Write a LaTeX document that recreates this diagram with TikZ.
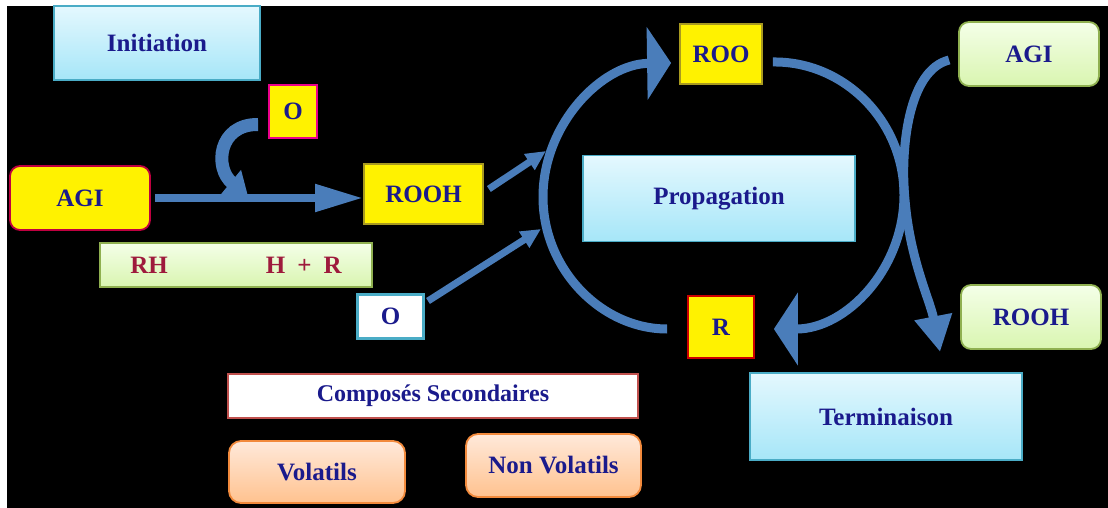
\documentclass[tikz,border=0pt]{standalone}
\usepackage{fontspec}
\setmainfont{Liberation Serif}
\usetikzlibrary{arrows.meta,calc}
\definecolor{navy}{HTML}{1A1A8C}
\definecolor{rhred}{HTML}{9E1A3C}
\definecolor{cyantop}{HTML}{E4F8FE}
\definecolor{cyanbot}{HTML}{A6E6F8}
\definecolor{cyanedge}{HTML}{4AACC6}
\definecolor{greentop}{HTML}{F4FFE8}
\definecolor{greenbot}{HTML}{D9F5B0}
\definecolor{greenedge}{HTML}{8FB050}
\definecolor{orangetop}{HTML}{FFE9DA}
\definecolor{orangebot}{HTML}{FFC28F}
\definecolor{orangeedge}{HTML}{F28A3C}
\definecolor{yellowedge}{HTML}{A89A20}
\definecolor{compred}{HTML}{C0504D}
\definecolor{arrowblue}{HTML}{4A7DBA}
\begin{document}
\begin{tikzpicture}[x=0.5pt,y=-0.5pt,
    box/.style={draw, line width=0.9pt, text=navy, inner sep=0pt,
        font=\bfseries\fontsize{12.5}{15}\selectfont},
    stagebox/.style={box, draw=cyanedge, top color=cyantop, bottom color=cyanbot,
        minimum width=136pt, minimum height=43pt},
    yellowbox/.style={box, fill=yellow, draw=yellowedge},
    greenbox/.style={box, rounded corners=5pt, draw=greenedge, top color=greentop,
        bottom color=greenbot, minimum width=70pt, minimum height=32pt},
    orangebox/.style={box, rounded corners=6pt, draw=orangeedge, top color=orangetop,
        bottom color=orangebot, minimum height=31pt},
    flow/.style={draw=arrowblue, line width=4.5pt},
    ]

    \useasboundingbox (0,0) rectangle (1108,508);
    \fill[white] (0,0) rectangle (1108,508);
    \fill[black] (7,6) rectangle (1108,508);

    \node[stagebox, minimum width=103pt, minimum height=37pt] (init) at (157,43) {Initiation};
    \node[stagebox] (prop) at (719,198.5) {Propagation};
    \node[stagebox, minimum height=43.5pt] (term) at (886,416.5) {Terminaison};

    \node[yellowbox, draw=magenta, minimum width=24pt, minimum height=26.5pt] (oA) at (293,111.5) {O};
    \node[yellowbox, draw=purple, rounded corners=5pt, minimum width=70pt, minimum height=32pt] (agiL) at (80,198) {AGI};
    \node[yellowbox, minimum width=59.5pt, minimum height=30pt] (roohY) at (423.5,194) {ROOH};
    \node[yellowbox, minimum width=41pt, minimum height=30pt] (roo) at (721,54) {ROO};
    \node[yellowbox, draw=red!80!black, minimum width=33pt, minimum height=31pt] (rY) at (721,327) {R};
    \node[box, fill=white, draw=cyanedge, line width=1.5pt, minimum width=33pt, minimum height=22pt] (oB) at (390.5,316.5) {O};

    \node[box, draw=greenedge, top color=greentop, bottom color=greenbot, text=rhred,
        minimum width=136pt, minimum height=22pt] (rh) at (236,265) {RH\hspace{49pt}H\hspace{6pt}+\hspace{6pt}R\hspace{12pt}};

    \node[greenbox] (agiR) at (1029,54) {AGI};
    \node[greenbox] (roohR) at (1031,317) {ROOH};

    \node[box, fill=white, draw=compred, line width=1.3pt, minimum width=205pt, minimum height=22pt,
        font=\bfseries\fontsize{12}{14}\selectfont] (comp) at (433,396) {Composés Secondaires};
    \node[orangebox, minimum width=88pt] (vol) at (317,472) {Volatils};
    \node[orangebox, minimum width=87.5pt, minimum height=31.5pt] (nonvol) at (553.5,465.5) {Non Volatils};

    \coordinate (join) at (248,196);
    \coordinate (cin1) at (546,151);
    \coordinate (cin2) at (541,229);

    \draw[flow, line width=4pt, -{Triangle[length=24pt,width=13pt]}] ([xshift=2pt]agiL.east) -- (agiL.east -| roohY.west);
    \draw[flow, line width=6.5pt, -{Triangle[length=11pt,width=15pt]}] ($(oA.west)+(-10,13)$) .. controls (218,124) and (214,168) .. (join);
    \draw[flow, line width=3.5pt, -{Triangle[length=10pt,width=9pt]}] ($(roohY.east)+(5,-5)$) -- (cin1);
    \draw[flow, line width=3.5pt, -{Triangle[length=10pt,width=9pt]}] ($(oB.north east)+(3,8)$) -- (cin2);

    \draw[flow, -{Triangle[length=12pt,width=36pt]}] ($(rY.west)+(-20,2)$) .. controls (602,329) and (543,270) .. (543,197)
        .. controls (543,124) and (602,64) .. ($(roo.west)+(-8,9)$);
    \draw[flow, -{Triangle[length=12pt,width=36pt]}] ($(roo.east)+(10,8)$) .. controls (844,61) and (904,121) .. (904,195)
        .. controls (904,269) and (846,329) .. ($(rY.east)+(19,2)$);
    \draw[flow, -{Triangle[length=18pt,width=18pt]}] ($(agiR.west)+(-9,6)$) .. controls (908,70) and (900,150) .. (905,200)
        .. controls (910,260) and (930,300) .. ($(roohR.west)+(-20,35)$);

\end{tikzpicture}
\end{document}
